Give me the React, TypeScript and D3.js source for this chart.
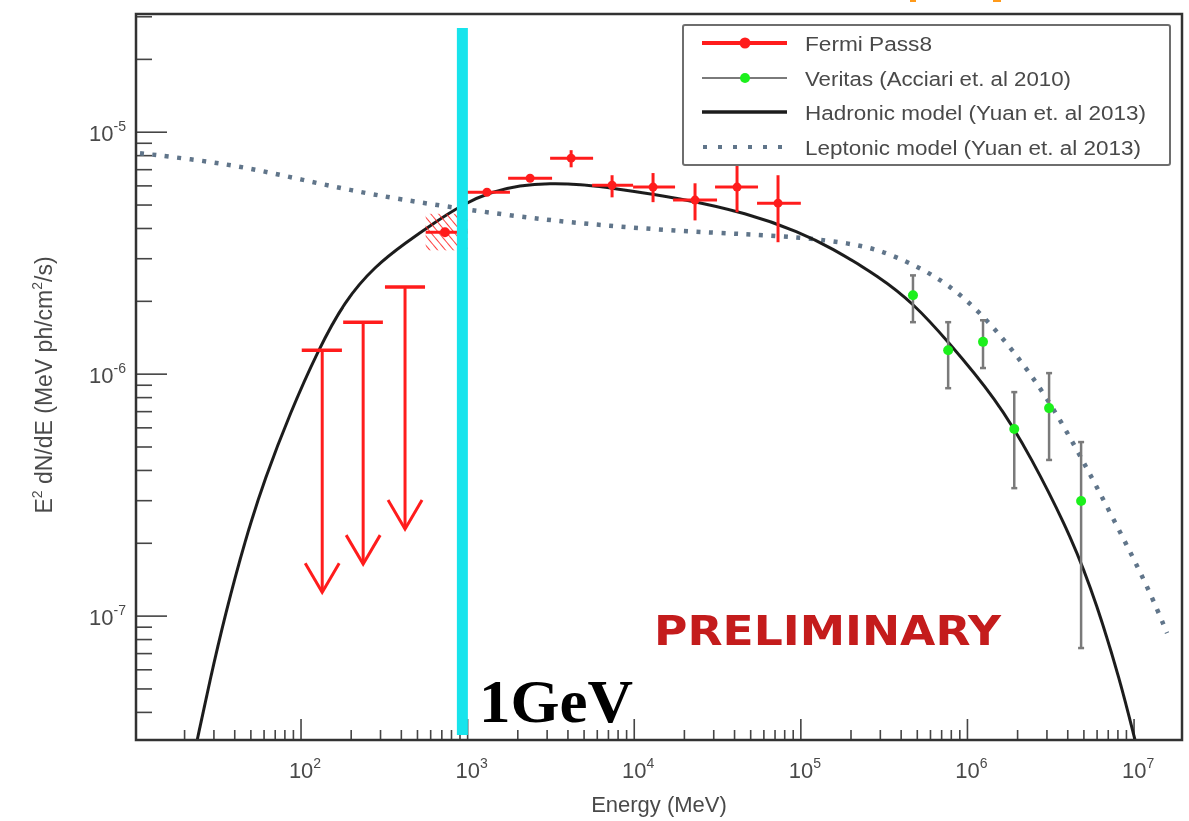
import React from 'react';
import * as d3 from 'd3';

// ---------- data ----------
const xTickExps = [2, 3, 4, 5, 6, 7];
const yTickExps = [-7, -6, -5];

// Hadronic model (Yuan et al 2013)
const hadE = [23.8, 28.4, 35.0, 46.1, 60.8, 85.9, 126.5, 183.7, 278, 421, 637, 938, 1363, 2063, 3123, 4727, 7458, 18830, 47540, 98900, 1.497e5, 2.988e5, 4.716e5, 7.545e5, 1.505e6, 2.376e6, 4.305e6, 5.998e6, 8.24e6, 1.014e7];
const hadF = [3.07e-8, 5.44e-8, 1.01e-7, 2.06e-7, 3.72e-7, 6.9e-7, 1.257e-6, 2.02e-6, 2.795e-6, 3.477e-6, 4.246e-6, 5.04e-6, 5.65e-6, 6.04e-6, 6.155e-6, 6.1e-6, 5.87e-6, 5.34e-6, 4.63e-6, 3.86e-6, 3.35e-6, 2.517e-6, 1.965e-6, 1.382e-6, 7.81e-7, 4.63e-7, 2.06e-7, 1.11e-7, 5.44e-8, 3.07e-8];

// Leptonic model (Yuan et al 2013)
const lepE = [10.8, 24.77, 49.42, 98.6, 196.8, 392.8, 938, 2996, 7458, 18830, 47540, 98900, 1.974e5, 2.988e5, 4.716e5, 7.545e5, 1.19e6, 1.878e6, 3.005e6, 4.743e6, 7.48e6, 1.197e7, 1.578e7];
const lepF = [8.19e-6, 7.66e-6, 7.1e-6, 6.39e-6, 5.76e-6, 5.28e-6, 4.81e-6, 4.33e-6, 4.09e-6, 3.9e-6, 3.79e-6, 3.68e-6, 3.477e-6, 3.254e-6, 2.848e-6, 2.377e-6, 1.804e-6, 1.257e-6, 8.04e-7, 4.63e-7, 2.54e-7, 1.343e-7, 8.51e-8];

// Fermi Pass8 points
const fermiE = [1306, 2371, 4180, 7362, 12970, 23170, 41400, 72950];
const fermiELo = [991, 1750, 3126, 5585, 9842, 17100, 30550, 54580];
const fermiEHi = [1795, 3212, 5662, 9842, 17580, 31400, 55330, 100000];
const fermiF = [5.65e-6, 6.45e-6, 7.81e-6, 6.04e-6, 5.93e-6, 5.24e-6, 5.93e-6, 5.09e-6];
const fermiFLo = [5.45e-6, 6.25e-6, 7.16e-6, 5.38e-6, 5.14e-6, 4.32e-6, 4.67e-6, 3.51e-6];
const fermiFHi = [5.85e-6, 6.65e-6, 8.43e-6, 6.64e-6, 6.78e-6, 6.15e-6, 7.31e-6, 6.64e-6];

// Fermi hatched low-energy point
const hatchE = [731];
const hatchELo = [560];
const hatchEHi = [1000];
const hatchF = [3.86e-6];
const hatchFLo = [3.25e-6];
const hatchFHi = [4.6e-6];

// Fermi upper limits
const ulE = [134, 236, 421];
const ulELo = [101, 179, 319];
const ulEHi = [176, 310, 555];
const ulF = [1.256e-6, 1.64e-6, 2.29e-6];
const ulFactor = 10;

// Veritas
const verE = [4.71e5, 7.66e5, 1.24e6, 1.91e6, 3.09e6, 4.81e6];
const verF = [2.12e-6, 1.256e-6, 1.36e-6, 5.93e-7, 7.24e-7, 2.99e-7];
const verFLo = [1.64e-6, 8.75e-7, 1.06e-6, 3.38e-7, 4.42e-7, 7.38e-8];
const verFHi = [2.56e-6, 1.64e-6, 1.67e-6, 8.43e-7, 1.01e-6, 5.24e-7];

const gevE = 930;

const legendItems = [
  { label: 'Fermi Pass8', kind: 'fermi', len: 127 },
  { label: 'Veritas (Acciari et. al 2010)', kind: 'veritas', len: 266 },
  { label: 'Hadronic model (Yuan et. al 2013)', kind: 'hadronic', len: 341 },
  { label: 'Leptonic model (Yuan et. al 2013)', kind: 'leptonic', len: 336 },
];

// ---------- styles ----------
const RED = '#ff1e1e';
const GREEN = '#1ef01e';
const GREY = '#7a7a7a';
const DARK = '#1e1e1e';
const SLATE = '#60758a';
const TXT = '#4a4a4a';

export default function App() {
  const L = 136, R = 1182, T = 14, B = 740;
  const x = d3.scaleLog().domain([10.22, 1.94e7]).range([L, R]);
  const y = d3.scaleLog().domain([3.076e-8, 3.08e-5]).range([B, T]);
  const line = d3
    .line<[number, number]>()
    .x((d) => x(d[0]))
    .y((d) => y(d[1]))
    .curve(d3.curveBasis);

  const had = hadE.map((e, i) => [e, hadF[i]] as [number, number]);
  const lep = lepE.map((e, i) => [e, lepF[i]] as [number, number]);

  const [xd0, xd1] = x.domain();
  const xMinor: number[] = [];
  for (let k = 1; k <= 7; k++) for (let m = 1; m <= 9; m++) {
    const v = m * Math.pow(10, k);
    if (v > xd0 && v < xd1) xMinor.push(v);
  }
  const [yd0, yd1] = y.domain();
  const yMinor: number[] = [];
  for (let k = -8; k <= -5; k++) for (let m = 1; m <= 9; m++) {
    const v = m * Math.pow(10, k);
    if (v > yd0 && v < yd1) yMinor.push(v);
  }
  const isMajor = (v: number) => Math.abs(Math.log10(v) - Math.round(Math.log10(v))) < 1e-9;

  const legX0 = 683, legY0 = 25, legW = 487, legH = 140;
  const legRows = [43, 78, 112, 147];

  return (
    <svg
      width={1189}
      height={821}
      style={{ position: 'absolute', left: 0, top: 0, background: '#fff' }}
      fontFamily="'Liberation Sans', Arial, sans-serif"
    >
      <defs>
        <clipPath id="plotClip">
          <rect x={L} y={T} width={R - L} height={B - T} />
        </clipPath>
        <filter id="soft" x="-5%" y="-5%" width="110%" height="110%">
          <feGaussianBlur stdDeviation="0.55" />
        </filter>
        <pattern id="hatch" width="6" height="6" patternUnits="userSpaceOnUse" patternTransform="rotate(-40)">
          <line x1="0" y1="0" x2="0" y2="6" stroke={RED} strokeWidth="2" />
        </pattern>
      </defs>
      <rect x={0} y={0} width={1189} height={821} fill="#fff" />
      <g filter="url(#soft)">
        {/* axis ticks */}
        {xMinor.map((v, i) => (
          <line key={'xt' + i} x1={x(v)} x2={x(v)} y1={B} y2={B - (isMajor(v) ? 21 : 10)} stroke="#444" strokeWidth={1.6} />
        ))}
        {yMinor.map((v, i) => (
          <line key={'yt' + i} x1={L} x2={L + (isMajor(v) ? 31 : 16)} y1={y(v)} y2={y(v)} stroke="#444" strokeWidth={1.6} />
        ))}
        {/* tick labels */}
        {xTickExps.map((k) => (
          <text key={'xl' + k} x={x(Math.pow(10, k)) + 4} y={778} textAnchor="middle" fontSize={22} fill={TXT}>
            10<tspan dy={-10} fontSize={14}>{k}</tspan>
          </text>
        ))}
        {yTickExps.map((k) => (
          <text key={'yl' + k} x={126} y={y(Math.pow(10, k)) + 9} textAnchor="end" fontSize={22} fill={TXT}>
            10<tspan dy={-10} fontSize={14}>{'-' + -k}</tspan>
          </text>
        ))}
        {/* axis titles */}
        <text x={(L + R) / 2} y={812} textAnchor="middle" fontSize={22} fill={TXT}>
          Energy (MeV)
        </text>
        <text transform={`translate(52,${(T + B) / 2 + 8}) rotate(-90)`} textAnchor="middle" fontSize={23} fill={TXT}>
          E<tspan dy={-10} fontSize={14}>2</tspan>
          <tspan dy={10}> dN/dE (MeV ph/cm</tspan>
          <tspan dy={-10} fontSize={14}>2</tspan>
          <tspan dy={10}>/s)</tspan>
        </text>

        <g clipPath="url(#plotClip)">
          {/* models */}
          <path d={line(lep) || ''} fill="none" stroke={SLATE} strokeWidth={4.5} strokeDasharray="4 8.5" />
          <path d={line(had) || ''} fill="none" stroke={DARK} strokeWidth={3} />

          {/* hatched point */}
          {hatchE.map((e, i) => (
            <g key={'h' + i}>
              <rect x={x(hatchELo[i])} y={y(hatchFHi[i])} width={x(hatchEHi[i]) - x(hatchELo[i])} height={y(hatchFLo[i]) - y(hatchFHi[i])} fill="url(#hatch)" opacity={0.85} />
              <line x1={x(hatchELo[i])} x2={x(hatchEHi[i])} y1={y(hatchF[i])} y2={y(hatchF[i])} stroke={RED} strokeWidth={3} />
              <circle cx={x(e)} cy={y(hatchF[i])} r={5} fill={RED} />
            </g>
          ))}

          {/* upper limits */}
          {ulE.map((e, i) => {
            const cx = x(e);
            const y0 = y(ulF[i]);
            const y1 = y(ulF[i] / ulFactor);
            return (
              <g key={'ul' + i} stroke={RED} strokeWidth={3} fill="none">
                <line x1={x(ulELo[i])} x2={x(ulEHi[i])} y1={y0} y2={y0} strokeWidth={3.5} />
                <line x1={cx} x2={cx} y1={y0} y2={y1} />
                <polyline points={`${cx - 17},${y1 - 29} ${cx},${y1} ${cx + 17},${y1 - 29}`} />
              </g>
            );
          })}

          {/* Fermi points */}
          {fermiE.map((e, i) => (
            <g key={'f' + i} stroke={RED} strokeWidth={3}>
              <line x1={x(fermiELo[i])} x2={x(fermiEHi[i])} y1={y(fermiF[i])} y2={y(fermiF[i])} />
              <line x1={x(e)} x2={x(e)} y1={y(fermiFLo[i])} y2={y(fermiFHi[i])} />
              <circle cx={x(e)} cy={y(fermiF[i])} r={4.5} fill={RED} stroke="none" />
            </g>
          ))}

          {/* Veritas points */}
          {verE.map((e, i) => (
            <g key={'v' + i}>
              <g stroke={GREY} strokeWidth={2.5}>
                <line x1={x(e)} x2={x(e)} y1={y(verFLo[i])} y2={y(verFHi[i])} />
                <line x1={x(e) - 3} x2={x(e) + 3} y1={y(verFLo[i])} y2={y(verFLo[i])} />
                <line x1={x(e) - 3} x2={x(e) + 3} y1={y(verFHi[i])} y2={y(verFHi[i])} />
              </g>
              <circle cx={x(e)} cy={y(verF[i])} r={5} fill={GREEN} />
            </g>
          ))}
        </g>

        {/* PRELIMINARY */}
        <text x={654} y={645} fontFamily="'DejaVu Sans', Verdana, sans-serif" fontWeight="bold" fontSize={40} fill="#c41a1f" textLength={347} lengthAdjust="spacingAndGlyphs">
          PRELIMINARY
        </text>

        {/* frame */}
        <rect x={L} y={T} width={R - L} height={B - T} fill="none" stroke="#333" strokeWidth={2.5} />

        {/* legend */}
        <rect x={legX0} y={legY0} width={legW} height={legH} fill="#fff" stroke="#6e6e6e" strokeWidth={2} rx={2} />
        {legendItems.map((it, i) => {
          const cy = legRows[i];
          let sample: React.ReactNode = null;
          if (it.kind === 'fermi') {
            sample = (
              <g>
                <line x1={702} x2={787} y1={cy} y2={cy} stroke={RED} strokeWidth={4} />
                <circle cx={745} cy={cy} r={5.5} fill={RED} />
              </g>
            );
          } else if (it.kind === 'veritas') {
            sample = (
              <g>
                <line x1={702} x2={787} y1={cy} y2={cy} stroke={GREY} strokeWidth={2} />
                <circle cx={745} cy={cy} r={5} fill={GREEN} />
              </g>
            );
          } else if (it.kind === 'hadronic') {
            sample = <line x1={702} x2={787} y1={cy} y2={cy} stroke={DARK} strokeWidth={3.5} />;
          } else {
            sample = <line x1={703} x2={784} y1={cy} y2={cy} stroke={SLATE} strokeWidth={4} strokeDasharray="4 11" />;
          }
          return (
            <g key={'lg' + i}>
              {sample}
              <text x={805} y={cy + 7.5} fontSize={20} fill={TXT} textLength={it.len} lengthAdjust="spacingAndGlyphs">
                {it.label}
              </text>
            </g>
          );
        })}
      </g>

      {/* 1 GeV marker */}
      <line x1={x(gevE)} x2={x(gevE)} y1={28} y2={735} stroke="#17e4ec" strokeWidth={11} />
      <text x={479} y={722} fontFamily="'Liberation Serif', 'DejaVu Serif', serif" fontWeight="bold" fontSize={62} fill="#000" textLength={154} lengthAdjust="spacingAndGlyphs">
        1GeV
      </text>
      {/* orange remnants at the top edge */}
      <rect x={910} y={0} width={6} height={2} fill="#ff9a1a" />
      <rect x={993} y={0} width={8} height={2} fill="#ff9a1a" />
    </svg>
  );
}
